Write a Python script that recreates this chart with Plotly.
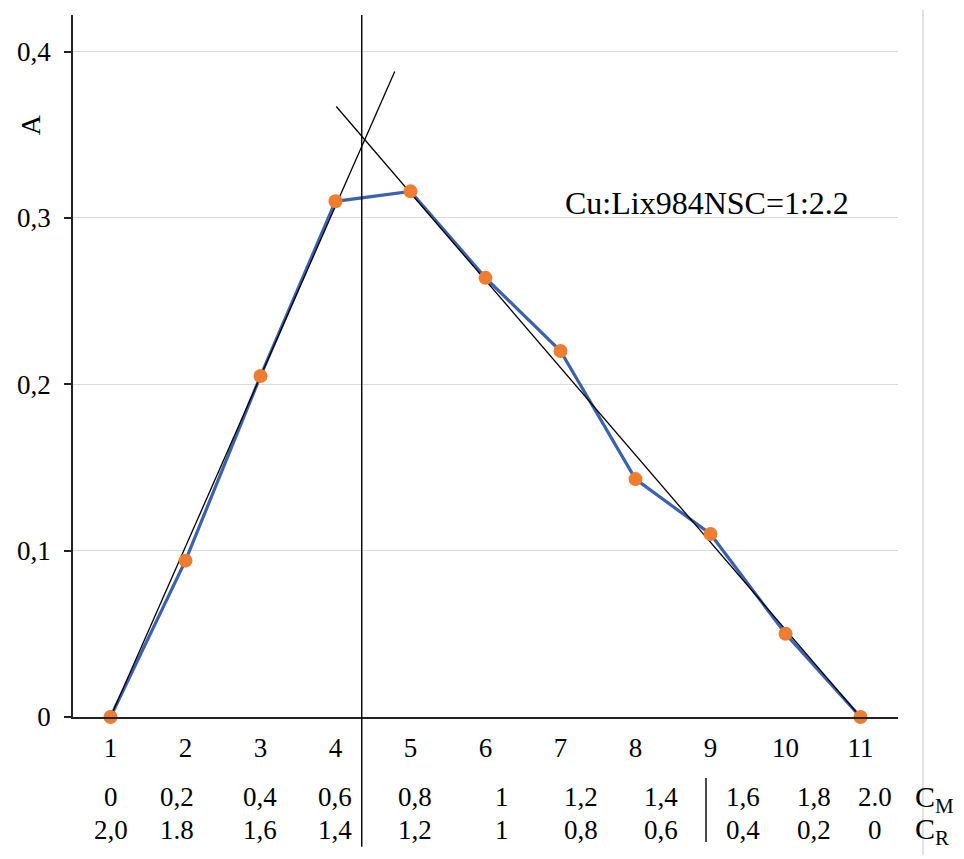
import plotly.graph_objects as go

# Data
x_idx = [1, 2, 3, 4, 5, 6, 7, 8, 9, 10, 11]
absorb = [0.0, 0.094, 0.205, 0.310, 0.316, 0.264, 0.220, 0.143, 0.110, 0.050, 0.0]
cm_labels = ["0", "0,2", "0,4", "0,6", "0,8", "1", "1,2", "1,4", "1,6", "1,8", "2.0"]
cr_labels = ["2,0", "1.8", "1,6", "1,4", "1,2", "1", "0,8", "0,6", "0,4", "0,2", "0"]
label_shift_px = [0, -9, -1, -1, 4, 16, 20, 25, 32, 28, 14]
y_ticks = [0, 0.1, 0.2, 0.3, 0.4]
y_tick_text = ["0", "0,1", "0,2", "0,3", "0,4"]
# tangent lines (ascending and descending branches)
left_tan_x = [1, 4.79]
left_tan_y = [0.0, 0.388]
right_tan_x = [4.01, 11]
right_tan_y = [0.367, 0.0]
x_cross = 4.35
x_sep = 8.94
annot_text = "Cu:Lix984NSC=1:2.2"

FONT = "Liberation Serif"

fig = go.Figure()
fig.add_trace(go.Scatter(x=x_idx, y=absorb, mode="lines",
                         line=dict(color="#3d62ad", width=3.2),
                         showlegend=False, cliponaxis=False))
fig.add_trace(go.Scatter(x=left_tan_x, y=left_tan_y, mode="lines",
                         line=dict(color="black", width=1.3), showlegend=False))
fig.add_trace(go.Scatter(x=right_tan_x, y=right_tan_y, mode="lines",
                         line=dict(color="black", width=1.3), showlegend=False))
fig.add_trace(go.Scatter(x=x_idx, y=absorb, mode="markers",
                         marker=dict(color="#ED7D31", size=14),
                         showlegend=False, cliponaxis=False))

# vertical line through the intersection, extending below the axis
fig.add_shape(type="line", xref="x", yref="paper", x0=x_cross, x1=x_cross,
              y0=1.0, y1=-0.185, line=dict(color="black", width=1.4))
# short separator line in the table
fig.add_shape(type="line", xref="x", yref="paper", x0=x_sep, x1=x_sep,
              y0=-0.087, y1=-0.178, line=dict(color="black", width=1.4))
# outer frame gray line on the right
fig.add_shape(type="line", xref="paper", yref="paper", x0=1.0303, x1=1.0303,
              y0=1.007, y1=-0.197, line=dict(color="#d9d9d9", width=1.5))

# table rows
for xi, cm, cr, sh in zip(x_idx, cm_labels, cr_labels, label_shift_px):
    fig.add_annotation(x=xi, y=-0.1145, xref="x", yref="paper", text=cm, xshift=sh,
                       xanchor="center", yanchor="middle",
                       showarrow=False, font=dict(family=FONT, size=27, color="black"))
    fig.add_annotation(x=xi, y=-0.161, xref="x", yref="paper", text=cr, xshift=sh,
                       xanchor="center", yanchor="middle",
                       showarrow=False, font=dict(family=FONT, size=27, color="black"))

fig.add_annotation(x=1.018, y=-0.117, xref="paper", yref="paper",
                   text="C<sub>M</sub>", showarrow=False,
                   xanchor="left", yanchor="middle",
                   font=dict(family=FONT, size=30, color="black"))
fig.add_annotation(x=1.018, y=-0.163, xref="paper", yref="paper",
                   text="C<sub>R</sub>", showarrow=False,
                   xanchor="left", yanchor="middle",
                   font=dict(family=FONT, size=30, color="black"))

fig.add_annotation(x=8.95, y=0.309, xref="x", yref="y", text=annot_text,
                   xanchor="center", yanchor="middle",
                   showarrow=False, font=dict(family=FONT, size=32, color="black"))

fig.add_annotation(x=-0.052, y=0.843, xref="paper", yref="paper", text="A",
                   textangle=-90, showarrow=False, xanchor="center", yanchor="middle",
                   font=dict(family=FONT, size=28, color="black"))

fig.update_xaxes(range=[0.5, 11.5], tickvals=x_idx, ticktext=[str(v) for v in x_idx],
                 showgrid=False, zeroline=False, showline=True, linecolor="#222222",
                 linewidth=1.6, ticks="", ticklabelstandoff=6,
                 tickfont=dict(family=FONT, size=27, color="black"))
fig.update_yaxes(range=[0, 0.422], tickvals=y_ticks, ticktext=y_tick_text,
                 showgrid=True, gridcolor="#d9d9d9", gridwidth=1.3, zeroline=False,
                 showline=True, linecolor="#222222", linewidth=1.6,
                 ticks="outside", ticklen=7, tickcolor="#222222", tickwidth=1.6,
                 ticklabelstandoff=8,
                 tickfont=dict(family=FONT, size=27, color="black"))

fig.update_layout(width=964, height=859,
                  margin=dict(l=73, r=66, t=15, b=142),
                  plot_bgcolor="white", paper_bgcolor="white",
                  font=dict(family=FONT))

fig.write_html("out.html")
